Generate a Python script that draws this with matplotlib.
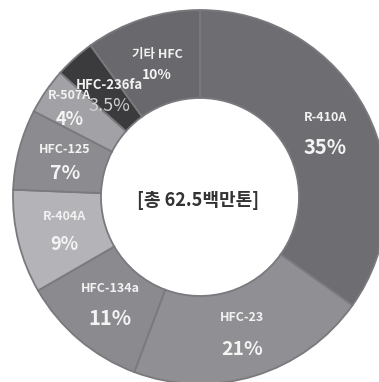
import numpy as np
import matplotlib.pyplot as plt

plt.rcParams['font.family'] = ['Noto Sans CJK KR', 'DejaVu Sans']

# HFC 배출 구성 (%), 12시 방향부터 시계방향
names = ['R-410A', 'HFC-23', 'HFC-134a', 'R-404A', 'HFC-125', 'R-507A', 'HFC-236fa', '기타 HFC']
shares = [35, 21, 11, 9, 7, 4, 3.5, 10]
pct_labels = ['35%', '21%', '11%', '9%', '7%', '4%', '3.5%', '10%']
total_label = '[총 62.5백만톤]'

colors = ['#6e6e72', '#909094', '#8b8b8f', '#b4b4b8', '#8c8c90', '#a2a2a6', '#3b3b3d', '#69696d']

W, H = 379, 382
fig = plt.figure(figsize=(W / 100, H / 100), dpi=100)
ax = fig.add_axes([0, 0, 1, 1])

cx, cy = 200, H - 197
R = 187
ring = 88

wedges, _ = ax.pie(shares, colors=colors, startangle=90, counterclock=False,
                   center=(cx, cy), radius=R, frame=True,
                   wedgeprops=dict(width=ring, edgecolor='#7a7a7e', linewidth=1.3))
ax.set_xlim(0, W)
ax.set_ylim(0, H)
ax.set_aspect('equal')
ax.axis('off')

# 이름/퍼센트 라벨
gaps = [15, 16, 15, 14, 12, 12, 11, 10]
name_size = [9, 9, 9, 9, 9, 9, 9.5, 9]
pct_size = [14.5, 14, 14.5, 13, 14, 13, 13, 10]
r_lab = [141, 143, 139, 140, 140, 158, 136, 139]
for w, name, pct, g, ns, ps, rl in zip(wedges, names, pct_labels, gaps, name_size, pct_size, r_lab):
    ang = np.deg2rad((w.theta1 + w.theta2) / 2)
    x = cx + rl * np.cos(ang)
    y = cy + rl * np.sin(ang)
    ax.text(x, y + g, name, ha='center', va='center', color='#f2f2f2',
            fontsize=ns, fontweight='semibold')
    if pct == '3.5%':
        ax.text(x + 1, y - g + 1, pct, ha='center', va='center', color='#cfcfcf',
                fontsize=ps, fontweight='normal')
    else:
        ax.text(x, y - g, pct, ha='center', va='center', color='#f4f4f4',
                fontsize=ps, fontweight='bold')

ax.text(cx - 2, cy - 3, total_label, ha='center', va='center', color='#333333',
        fontsize=13, fontweight='bold')

fig.savefig('out.png', dpi=100, facecolor='white')
